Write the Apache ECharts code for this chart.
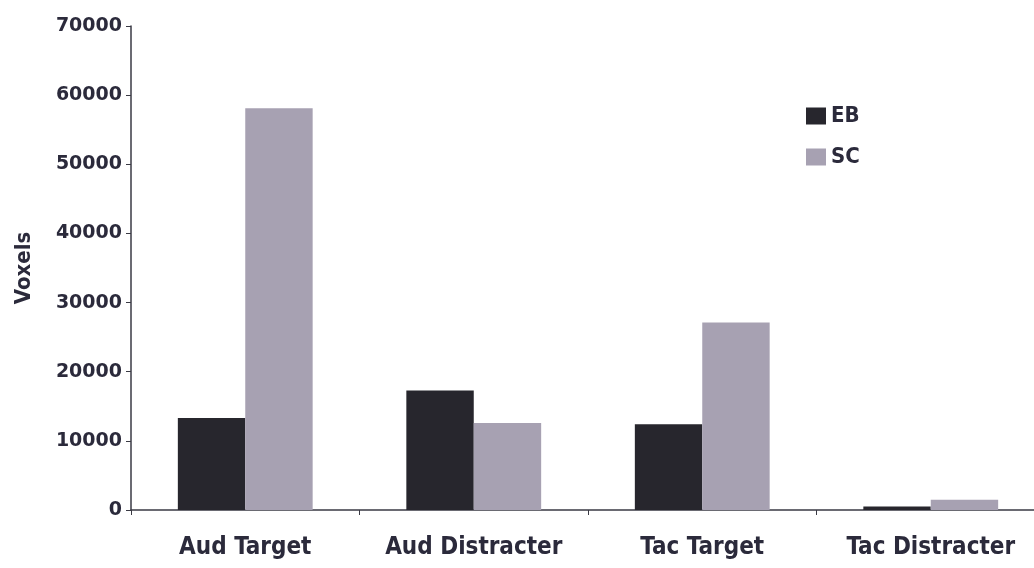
<!DOCTYPE html>
<html>
<head>
<meta charset="utf-8">
<script src="https://cdn.jsdelivr.net/npm/echarts@6/dist/echarts.min.js"></script>
<style>
  html, body { margin: 0; padding: 0; background: #ffffff; }
  #chart { width: 1034px; height: 568px; }
</style>
</head>
<body>
<div id="chart"></div>
<script>
// Voxel counts per condition and group
const categories = ['Aud Target', 'Aud Distracter', 'Tac Target', 'Tac Distracter'];
const ebValues = [13300, 17300, 12400, 500];
const scValues = [58100, 12600, 27100, 1500];
const yTicks = { min: 0, max: 70000, interval: 10000 };

const textColor = '#2b2a3b';
const condensed = '"DejaVu Sans Condensed", "DejaVu Sans", sans-serif';
const wide = '"DejaVu Sans", sans-serif';

const chart = echarts.init(document.getElementById('chart'), null, { renderer: 'canvas' });

chart.setOption({
  animation: false,
  backgroundColor: '#ffffff',
  // plot area runs slightly past the right edge of the canvas
  grid: { left: 131, width: 914, top: 26, bottom: 58, containLabel: false, outerBoundsMode: 'none' },
  legend: {
    data: ['EB', 'SC'],
    orient: 'vertical',
    left: 801,
    top: 100,
    itemWidth: 20,
    itemHeight: 17,
    itemGap: 19,
    icon: 'rect',
    textStyle: { color: textColor, fontSize: 22, lineHeight: 17, fontWeight: 'bold', fontFamily: condensed, padding: [2, 0, 0, 0] }
  },
  xAxis: {
    type: 'category',
    data: categories,
    axisLine: { lineStyle: { color: '#3a3a44', width: 1.5 } },
    axisTick: { show: true, length: 5, lineStyle: { color: '#3a3a44' } },
    axisLabel: { interval: 0, color: textColor, fontSize: 24, fontWeight: 'bold', fontFamily: condensed, margin: 26 }
  },
  yAxis: {
    type: 'value',
    min: yTicks.min,
    max: yTicks.max,
    interval: yTicks.interval,
    name: 'Voxels',
    nameLocation: 'middle',
    nameGap: 96,
    nameTextStyle: { color: textColor, fontSize: 22, fontWeight: 'bold', fontFamily: condensed },
    splitLine: { show: false },
    axisLine: { show: true, lineStyle: { color: '#3a3a44', width: 1.5 } },
    axisTick: { show: true, length: 5, lineStyle: { color: '#3a3a44' } },
    axisLabel: {
      color: textColor, fontSize: 19, fontWeight: 'bold', fontFamily: wide, margin: 9,
      formatter: function (v) { return String(v); }
    }
  },
  series: [
    {
      name: 'EB',
      type: 'bar',
      data: ebValues,
      barGap: '0%',
      barCategoryGap: '41%',
      itemStyle: { color: '#27262d' }
    },
    {
      name: 'SC',
      type: 'bar',
      data: scValues,
      itemStyle: { color: '#a7a1b2' }
    }
  ]
});
</script>
</body>
</html>
